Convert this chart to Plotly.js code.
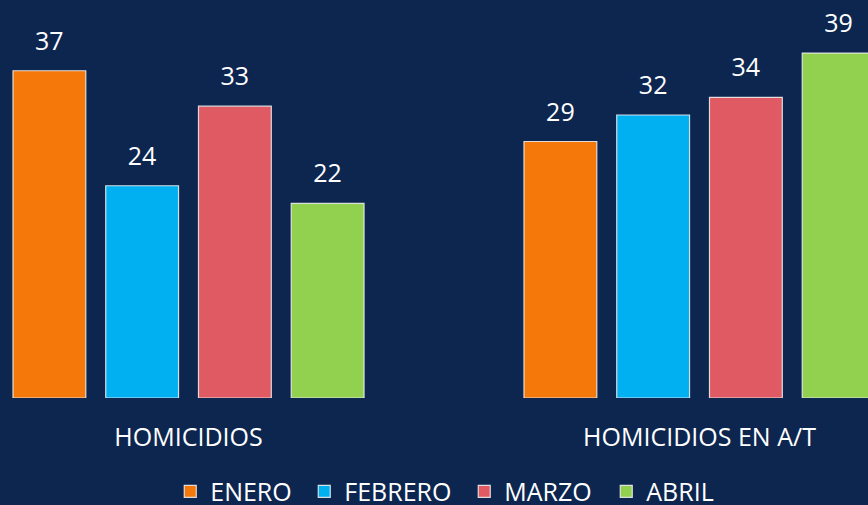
<!DOCTYPE html>
<html>
<head>
<meta charset="utf-8">
<script src="https://cdn.plot.ly/plotly-3.0.1.min.js"></script>
<style>
html,body{margin:0;padding:0;background:#0c2650;}
#chart{width:868px;height:505px;}
</style>
</head>
<body>
<div id="chart"></div>
<script>
const categories = ["HOMICIDIOS", "HOMICIDIOS EN A/T"];
const seriesNames = ["ENERO", "FEBRERO", "MARZO", "ABRIL"];
const enero = [37, 29];
const febrero = [24, 32];
const marzo = [33, 34];
const abril = [22, 39];
const colors = ["#f5780b", "#00b0f0", "#df5a62", "#92d050"];
const legendWidths = [89, 115, 97, 76];

const seriesValues = [enero, febrero, marzo, abril];
const barTraces = seriesValues.map((vals, i) => ({
  type: "bar",
  name: seriesNames[i],
  x: categories,
  y: vals,
  offsetgroup: "g" + i,
  legendwidth: legendWidths[i],
  marker: {color: colors[i], line: {color: "rgba(235,235,235,0.9)", width: 1.2}},
  hoverinfo: "none"
}));
const textTraces = seriesValues.map((vals, i) => ({
  type: "scatter",
  mode: "markers+text",
  x: categories,
  y: vals,
  offsetgroup: "g" + i,
  text: vals.map(String),
  textposition: "top center",
  cliponaxis: false,
  textfont: {family: "Open Sans", size: 25, color: "#ffffff"},
  marker: {size: 22, opacity: 0},
  showlegend: false,
  hoverinfo: "none"
}));

const layout = {
  width: 868,
  height: 505,
  paper_bgcolor: "#0c2650",
  plot_bgcolor: "#0c2650",
  margin: {l: 0, r: 0, t: 0, b: 107, autoexpand: false},
  barmode: "group",
  bargap: 0.274,
  bargroupgap: 0.215,
  scattermode: "group",
  scattergap: 0.274,
  font: {family: "Open Sans", color: "#ffffff", size: 25},
  xaxis: {
    type: "category",
    range: [-0.3689, 1.3297],
    showgrid: false,
    zeroline: false,
    showline: false,
    ticks: "",
    automargin: false,
    ticklabelstandoff: 22,
    tickfont: {family: "Open Sans", size: 25, color: "#ffffff"}
  },
  yaxis: {
    range: [0, 45],
    visible: false,
    showgrid: false,
    zeroline: false
  },
  showlegend: true,
  legend: {
    orientation: "h",
    x: 0.517,
    xanchor: "center",
    y: -0.235,
    yanchor: "middle",
    font: {family: "Open Sans", size: 25, color: "#ffffff"},
    bgcolor: "rgba(0,0,0,0)"
  }
};

Plotly.newPlot("chart", barTraces.concat(textTraces), layout, {displayModeBar: false, staticPlot: true});
</script>
</body>
</html>
